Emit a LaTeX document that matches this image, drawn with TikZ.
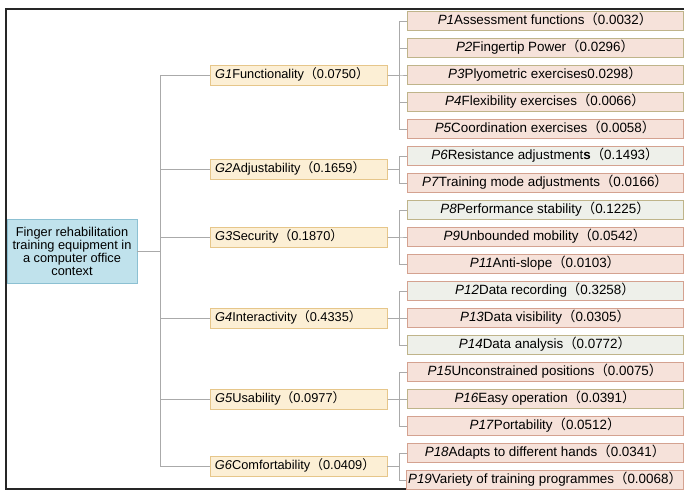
\documentclass[tikz,border=0pt]{standalone}
\usepackage{fontspec}
\setmainfont{Liberation Sans}
\newfontfamily\cjkfont{Noto Sans CJK SC}
\usepackage{tikz}
\usetikzlibrary{positioning, calc}

\newcommand{\fwl}{{\cjkfont （}}
\newcommand{\fwr}{{\cjkfont ）}}

\definecolor{rootfill}{HTML}{C0E2EC}
\definecolor{rootline}{HTML}{8CC0D2}
\definecolor{gfill}{HTML}{FCEFD5}
\definecolor{gline}{HTML}{E6C68A}
\definecolor{pfill}{HTML}{F6E2DA}
\definecolor{pline}{HTML}{D4A290}
\definecolor{oline}{HTML}{BFB48A}
\definecolor{wfill}{HTML}{EEF0EA}
\definecolor{linkgray}{HTML}{AAAAAA}

\begin{document}
\begin{tikzpicture}[x=1pt, y=-1pt, node distance=7.2pt,
    every node/.style={font=\fontsize{12.8}{13}\selectfont},
    link/.style={draw=linkgray, line width=1pt},
    rootbox/.style={draw=rootline, fill=rootfill, line width=0.8pt, align=center,
                    minimum width=130pt, minimum height=64pt, inner sep=1pt},
    gbox/.style={draw=gline, fill=gfill, line width=0.8pt, align=left,
                 text width=167pt, minimum height=20pt, inner xsep=5pt, inner ysep=1pt,
                 text height=9.5pt, text depth=3pt},
    pbox/.style={draw=pline, fill=pfill, line width=0.8pt, font=\fontsize{13.4}{14}\selectfont,
                 minimum width=276pt, minimum height=19pt, inner xsep=1.5pt, inner ysep=1pt,
                 text height=9.5pt, text depth=3pt},
    obox/.style={pbox, draw=oline},
    wbox/.style={pbox, fill=wfill}]
      \useasboundingbox (0,0) rectangle (684,491);

      % Frame
      \draw[line width=2pt, black!85] (684,9) -- (6,9) -- (6,489) -- (684,489);

      % Goal
      \node[rootbox] (root) at (72,251) {Finger rehabilitation\\training equipment in\\a computer office\\context};

      % Sub-criteria
      \node[obox] (p1) at (545,21) {\textit{P1}Assessment functions\fwl0.0032\fwr};
      \node[obox, below=of p1] (p2) {\textit{P2}Fingertip Power\fwl0.0296\fwr};
      \node[obox, below=of p2] (p3) {\textit{P3}Plyometric exercises0.0298\fwr};
      \node[obox, below=of p3] (p4) {\textit{P4}Flexibility exercises\fwl0.0066\fwr};
      \node[pbox, below=of p4] (p5) {\textit{P5}Coordination exercises\fwl0.0058\fwr};
      \node[wbox, below=of p5] (p6) {\textit{P6}Resistance adjustment\textbf{s}\fwl0.1493\fwr};
      \node[pbox, below=of p6] (p7) {\textit{P7}Training mode adjustments\fwl0.0166\fwr};
      \node[wbox, draw=oline, below=of p7] (p8) {\textit{P8}Performance stability\fwl0.1225\fwr};
      \node[pbox, below=of p8] (p9) {\textit{P9}Unbounded mobility\fwl0.0542\fwr};
      \node[pbox, below=of p9] (p11) {\textit{P11}Anti-slope\fwl0.0103\fwr};
      \node[wbox, below=of p11] (p12) {\textit{P12}Data recording\fwl0.3258\fwr};
      \node[pbox, below=of p12] (p13) {\textit{P13}Data visibility\fwl0.0305\fwr};
      \node[wbox, draw=oline, below=of p13] (p14) {\textit{P14}Data analysis\fwl0.0772\fwr};
      \node[pbox, below=of p14] (p15) {\textit{P15}Unconstrained positions\fwl0.0075\fwr};
      \node[obox, below=of p15] (p16) {\textit{P16}Easy operation\fwl0.0391\fwr};
      \node[pbox, below=of p16] (p17) {\textit{P17}Portability\fwl0.0512\fwr};
      \node[pbox, below=of p17] (p18) {\textit{P18}Adapts to different hands\fwl0.0341\fwr};
      \node[pbox, below=of p18] (p19) {\textit{P19}Variety of training programmes\fwl0.0068\fwr};

      % Criteria
      \node[gbox, left=19pt of p3] (g1) {\textit{G1}Functionality\fwl0.0750\fwr};
      \node[gbox, anchor=east] (g2) at ($(p6.west)!0.5!(p7.west)+(-19,0)$) {\textit{G2}Adjustability\fwl0.1659\fwr};
      \node[gbox, left=19pt of p9] (g3) {\textit{G3}Security\fwl0.1870\fwr};
      \node[gbox, left=19pt of p13] (g4) {\textit{G4}Interactivity\fwl0.4335\fwr};
      \node[gbox, left=19pt of p16] (g5) {\textit{G5}Usability\fwl0.0977\fwr};
      \node[gbox, anchor=east] (g6) at ($(p18.west)!0.5!(p19.west)+(-19,0)$) {\textit{G6}Comfortability\fwl0.0409\fwr};

      % Goal to criteria
      \draw[link] (root.east) -- ++(23,0) |- (g1.west);
      \draw[link] (root.east) -- ++(23,0) |- (g2.west);
      \draw[link] (root.east) -- ++(23,0) |- (g3.west);
      \draw[link] (root.east) -- ++(23,0) |- (g4.west);
      \draw[link] (root.east) -- ++(23,0) |- (g5.west);
      \draw[link] (root.east) -- ++(23,0) |- (g6.west);

      % Criteria to sub-criteria
      \draw[link] (g1.east) -- ++(12,0) |- (p1.west);
      \draw[link] (g1.east) -- ++(12,0) |- (p2.west);
      \draw[link] (g1.east) -- ++(12,0) |- (p3.west);
      \draw[link] (g1.east) -- ++(12,0) |- (p4.west);
      \draw[link] (g1.east) -- ++(12,0) |- (p5.west);
      \draw[link] (g2.east) -- ++(12,0) |- (p6.west);
      \draw[link] (g2.east) -- ++(12,0) |- (p7.west);
      \draw[link] (g3.east) -- ++(12,0) |- (p8.west);
      \draw[link] (g3.east) -- ++(12,0) |- (p9.west);
      \draw[link] (g3.east) -- ++(12,0) |- (p11.west);
      \draw[link] (g4.east) -- ++(12,0) |- (p12.west);
      \draw[link] (g4.east) -- ++(12,0) |- (p13.west);
      \draw[link] (g4.east) -- ++(12,0) |- (p14.west);
      \draw[link] (g5.east) -- ++(12,0) |- (p15.west);
      \draw[link] (g5.east) -- ++(12,0) |- (p16.west);
      \draw[link] (g5.east) -- ++(12,0) |- (p17.west);
      \draw[link] (g6.east) -- ++(12,0) |- (p18.west);
      \draw[link] (g6.east) -- ++(12,0) |- (p19.west);
\end{tikzpicture}
\end{document}
